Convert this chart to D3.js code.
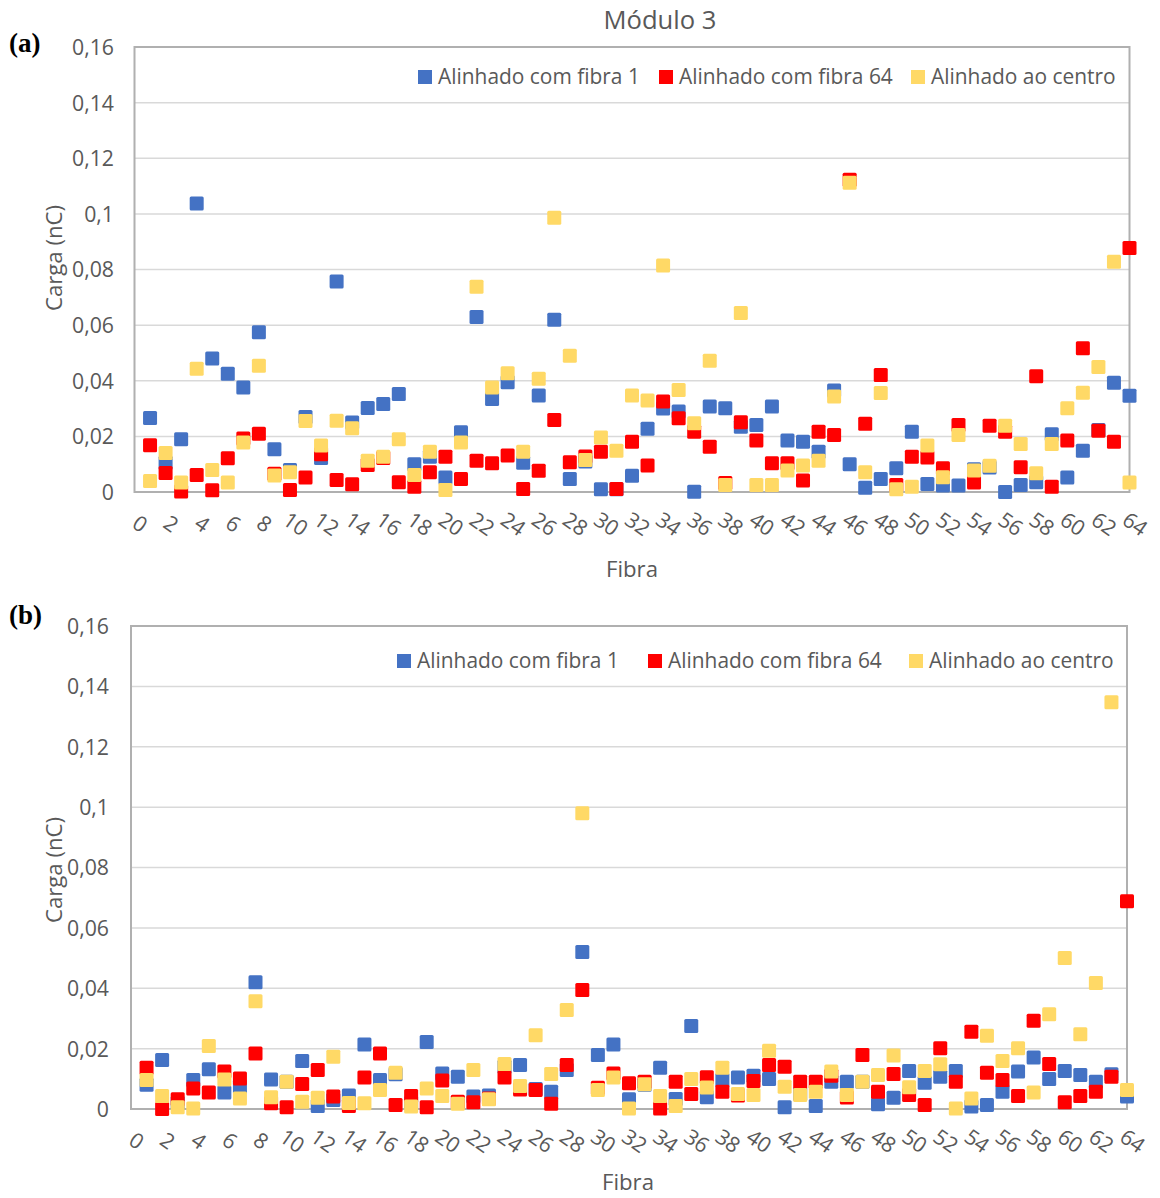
<!DOCTYPE html>
<html><head><meta charset="utf-8">
<script src="https://cdn.jsdelivr.net/npm/d3@7"></script>
<style>body{margin:0;background:#fff}svg{display:block}</style>
</head><body>
<script>
const fibras = [1,2,3,4,5,6,7,8,9,10,11,12,13,14,15,16,17,18,19,20,21,22,23,24,25,26,27,28,29,30,31,32,33,34,35,36,37,38,39,40,41,42,43,44,45,46,47,48,49,50,51,52,53,54,55,56,57,58,59,60,61,62,63,64];
const xTicks = [0,2,4,6,8,10,12,14,16,18,20,22,24,26,28,30,32,34,36,38,40,42,44,46,48,50,52,54,56,58,60,62,64];
const yTicks = [0,0.02,0.04,0.06,0.08,0.1,0.12,0.14,0.16];
const seriesNames = ["Alinhado com fibra 1","Alinhado com fibra 64","Alinhado ao centro"];
const seriesColors = ["#4472C4","#FF0000","#FFD966"];

const aFibra1 = [0.0266,0.0105,0.019,0.1037,0.048,0.0425,0.0376,0.0574,0.0154,0.0079,0.027,0.0122,0.0757,0.025,0.0302,0.0316,0.0352,0.01,0.0127,0.0052,0.0215,0.0629,0.0334,0.0395,0.0105,0.0347,0.0619,0.0047,0.011,0.001,0.001,0.0058,0.0227,0.03,0.0289,0.0001,0.0307,0.0301,0.0235,0.0241,0.0307,0.0185,0.0181,0.0145,0.0365,0.01,0.0015,0.0047,0.0085,0.0217,0.0029,0.0023,0.0023,0.0082,0.0088,0.0,0.0025,0.0035,0.0208,0.0052,0.0148,0.0223,0.0393,0.0346];
const aFibra64 = [0.0168,0.0068,0.0002,0.0061,0.0006,0.0121,0.0192,0.0209,0.0066,0.0007,0.0052,0.0136,0.0043,0.0028,0.0097,0.0122,0.0035,0.0019,0.0071,0.0127,0.0047,0.0112,0.0103,0.0131,0.0011,0.0076,0.0259,0.0107,0.0128,0.0145,0.0011,0.0181,0.0095,0.0325,0.0265,0.0217,0.0163,0.0032,0.0251,0.0185,0.0103,0.0103,0.0041,0.0217,0.0205,0.1123,0.0245,0.0421,0.0025,0.0127,0.0124,0.0085,0.0241,0.0034,0.0238,0.0217,0.0089,0.0416,0.0019,0.0185,0.0517,0.022,0.0181,0.0877];
const aCentro = [0.004,0.014,0.0034,0.0443,0.0079,0.0034,0.0178,0.0454,0.0059,0.0071,0.0255,0.0167,0.0256,0.0229,0.0112,0.0127,0.019,0.0061,0.0145,0.0007,0.0178,0.0738,0.0376,0.0427,0.0145,0.0407,0.0986,0.049,0.0115,0.0196,0.0148,0.0347,0.0329,0.0814,0.0367,0.0247,0.0472,0.0025,0.0644,0.0025,0.0025,0.0077,0.0095,0.0112,0.0343,0.1112,0.0071,0.0356,0.001,0.0019,0.0167,0.0053,0.0205,0.0077,0.0094,0.0238,0.0173,0.0067,0.0173,0.0301,0.0357,0.0449,0.0828,0.0034];

const bFibra1 = [0.008,0.0162,0.002,0.0096,0.0132,0.0055,0.0074,0.042,0.0098,0.009,0.0159,0.001,0.003,0.0045,0.0214,0.0096,0.0115,0.002,0.0222,0.0118,0.0107,0.0041,0.0045,0.014,0.0146,0.0066,0.0057,0.0129,0.052,0.0179,0.0214,0.0032,0.008,0.0137,0.0033,0.0275,0.0039,0.0096,0.0104,0.011,0.0099,0.0006,0.005,0.001,0.009,0.009,0.009,0.0016,0.0037,0.0126,0.0087,0.0107,0.0126,0.0008,0.0013,0.0057,0.0124,0.0171,0.0099,0.0126,0.0113,0.009,0.0115,0.0041];
const bFibra64 = [0.0137,0.0,0.0032,0.0068,0.0055,0.0124,0.0101,0.0184,0.0019,0.0006,0.0083,0.0129,0.0041,0.001,0.0104,0.0184,0.0013,0.0043,0.0006,0.0094,0.0024,0.0022,0.0035,0.0104,0.0065,0.0063,0.0017,0.0146,0.0394,0.007,0.0118,0.0085,0.009,0.0002,0.009,0.005,0.0105,0.0057,0.0045,0.0093,0.0146,0.014,0.009,0.009,0.011,0.0038,0.0179,0.0057,0.0116,0.0046,0.0013,0.0201,0.009,0.0256,0.012,0.0096,0.0043,0.0292,0.0149,0.0022,0.0043,0.0057,0.0107,0.0688];
const bCentro = [0.0096,0.0043,0.0006,0.0002,0.0209,0.0098,0.0035,0.0357,0.0039,0.009,0.0024,0.0037,0.0173,0.002,0.0019,0.0063,0.012,0.0008,0.0068,0.0043,0.0017,0.0129,0.0032,0.0149,0.0076,0.0244,0.0116,0.0328,0.098,0.0063,0.0104,0.0002,0.0082,0.0043,0.001,0.0099,0.0071,0.0137,0.005,0.0046,0.0193,0.0074,0.0046,0.0057,0.0124,0.0046,0.009,0.0113,0.0177,0.0072,0.0126,0.0148,0.0002,0.0035,0.0243,0.0159,0.0201,0.0055,0.0314,0.05,0.0248,0.0417,0.1347,0.0063];

const W = 1160, H = 1198;
const FONT = "'Open Sans', Lato, sans-serif";
const GRAY = "#595959";

const svg = d3.select("body").append("svg").attr("width", W).attr("height", H)
  .style("font-family", FONT);

function fitSize(sample, target, base) {
  const t = svg.append("text").attr("font-size", base).attr("font-family", FONT).text(sample);
  const w = t.node().getComputedTextLength();
  t.remove();
  return base * target / w;
}
const LEG_FS = fitSize("Alinhado com fibra 1", 202, 19);
const TICK_FS = fitSize("0,16", 42, 19);
const TITLE_FS = fitSize("Módulo 3", 113, 22);
const AXT_FS = fitSize("Fibra", 52, 20);

svg.append("text").attr("x", 660).attr("y", 20).attr("dy", "0.35em").attr("text-anchor", "middle")
  .attr("font-size", TITLE_FS).attr("fill", GRAY).text("Módulo 3");

function drawPanel(cfg, series) {
  const x = d3.scaleLinear().domain([0, 64]).range([cfg.left, cfg.right]);
  const y = d3.scaleLinear().domain([0, 0.16]).range([cfg.bottom, cfg.top]);
  const g = svg.append("g");

  svg.append("text").attr("x", 9).attr("y", cfg.letterY)
    .attr("font-family", "'Liberation Serif', 'Times New Roman', serif")
    .attr("font-weight", "bold").attr("font-size", 27).attr("fill", "#000").text(cfg.letter);

  g.append("g").selectAll("line").data(yTicks.filter(d => d > 0 && d < 0.16)).join("line")
    .attr("x1", cfg.left).attr("x2", cfg.right)
    .attr("y1", d => y(d)).attr("y2", d => y(d))
    .attr("stroke", "#d9d9d9").attr("stroke-width", 1.5);

  g.append("rect").attr("x", cfg.left).attr("y", cfg.top)
    .attr("width", cfg.right - cfg.left).attr("height", cfg.bottom - cfg.top)
    .attr("fill", "none").attr("stroke", "#b0b0b0").attr("stroke-width", 2);

  const yAxis = d3.axisLeft(y).tickValues(yTicks).tickSize(0).tickPadding(0)
    .tickFormat(d => d === 0 ? "0" : String(d).replace(".", ","));
  const ya = g.append("g").attr("transform", `translate(${cfg.yLabelX},0)`).call(yAxis);
  ya.select(".domain").remove();
  ya.selectAll("text").attr("font-size", TICK_FS).attr("fill", GRAY).attr("font-family", FONT)
    .attr("dy", "0.35em");

  const xAxis = d3.axisBottom(x).tickValues(xTicks).tickSize(0).tickPadding(0);
  const xa = g.append("g").attr("transform", `translate(0,${cfg.xLabelY})`).call(xAxis);
  xa.select(".domain").remove();
  xa.selectAll("text").attr("font-size", TICK_FS).attr("fill", GRAY).attr("font-family", FONT)
    .attr("y", 0).attr("dy", "0.35em").attr("text-anchor", "middle")
    .attr("transform", "translate(5,0) rotate(35)");

  svg.append("text").attr("transform", `translate(${cfg.yTitleX},${cfg.yTitleY}) rotate(-90)`)
    .attr("text-anchor", "middle").attr("dy", "0.35em").attr("font-size", AXT_FS).attr("fill", GRAY).text("Carga (nC)");
  svg.append("text").attr("x", cfg.xTitleX).attr("y", cfg.xTitleY).attr("dy", "0.35em").attr("text-anchor", "middle")
    .attr("font-size", AXT_FS).attr("fill", GRAY).text("Fibra");

  const S = 14;
  series.forEach((vals, si) => {
    g.append("g").selectAll("rect").data(fibras.map((f, i) => [f, vals[i]])).join("rect")
      .attr("x", d => x(d[0]) - S / 2).attr("y", d => y(d[1]) - S / 2)
      .attr("width", S).attr("height", S).attr("rx", 1.5)
      .attr("fill", seriesColors[si]);
  });

  const lg = svg.append("g");
  cfg.legendX.forEach((lx, i) => {
    lg.append("rect").attr("x", lx).attr("y", cfg.legendY - 7).attr("width", 14).attr("height", 14)
      .attr("fill", seriesColors[i]);
    lg.append("text").attr("x", lx + 20).attr("y", cfg.legendY).attr("dy", "0.35em")
      .attr("font-size", LEG_FS).attr("fill", GRAY).text(seriesNames[i]);
  });
}

drawPanel({letter: "(a)", letterY: 52, left: 134.5, right: 1129.5, top: 47, bottom: 492,
  yLabelX: 114, xLabelY: 524, yTitleX: 54, yTitleY: 258, xTitleX: 632, xTitleY: 569,
  legendX: [418, 659, 911], legendY: 77}, [aFibra1, aFibra64, aCentro]);

drawPanel({letter: "(b)", letterY: 624, left: 131, right: 1127, top: 626, bottom: 1109,
  yLabelX: 109, xLabelY: 1141, yTitleX: 54, yTitleY: 870, xTitleX: 628, xTitleY: 1182,
  legendX: [397, 648, 909], legendY: 661}, [bFibra1, bFibra64, bCentro]);
</script>
</body></html>
